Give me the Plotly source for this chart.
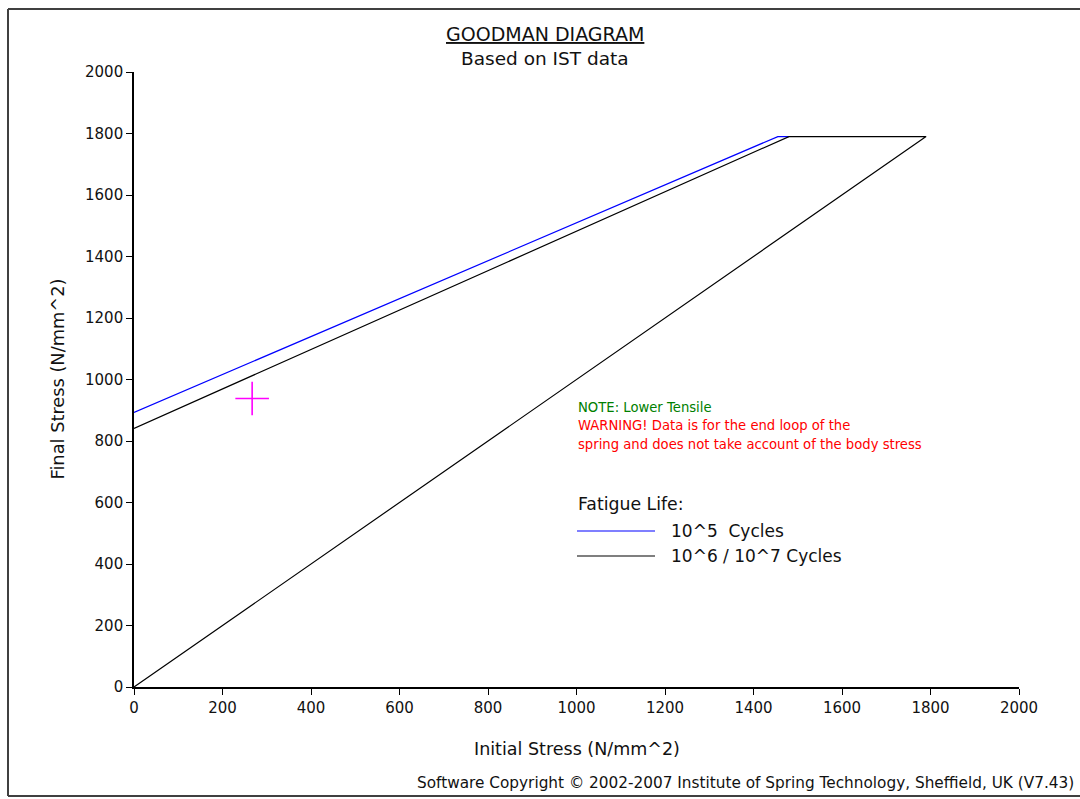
import plotly.graph_objects as go

# ---- data ----
blue_x = [0, 1455, 1480]
blue_y = [893, 1790, 1790]
black_x = [0, 1480, 1790, 0]
black_y = [841, 1790, 1790, 0]
point_x = [267]
point_y = [938]
ticks = [0, 200, 400, 600, 800, 1000, 1200, 1400, 1600, 1800, 2000]

FONT = "DejaVu Sans"
W, H = 1080, 799
L, R, T, B = 134, 61, 72, 112
PW, PH = W - L - R, H - T - B


def px(x):
    return (x - L) / PW


def py(y):
    return (H - B - y) / PH


fig = go.Figure()
fig.add_trace(go.Scatter(x=blue_x, y=blue_y, mode="lines",
                         line=dict(color="#0000FF", width=1.2), showlegend=False))
fig.add_trace(go.Scatter(x=black_x, y=black_y, mode="lines",
                         line=dict(color="#000000", width=1.2), showlegend=False))
fig.add_trace(go.Scatter(x=point_x, y=point_y, mode="markers",
                         marker=dict(symbol="cross-thin", size=24,
                                     line=dict(color="#FF00FF", width=1.6)),
                         showlegend=False))

axis_common = dict(range=[0, 2000], tickvals=ticks, ticktext=[str(t) for t in ticks],
                   showgrid=False, zeroline=False, showline=True, linecolor="black",
                   linewidth=1.6, ticks="outside", ticklen=6, tickwidth=1.4,
                   tickcolor="black", tickfont=dict(family=FONT, size=15, color="#111"),
                   fixedrange=True)
fig.update_xaxes(**axis_common)
fig.update_yaxes(**axis_common)

ann = []
ann.append(dict(text="<u>GOODMAN DIAGRAM</u>", x=px(545), y=py(34), font=dict(size=19)))
ann.append(dict(text="Based on IST data", x=px(545), y=py(59), font=dict(size=18.5)))
ann.append(dict(text="Initial Stress (N/mm^2)", x=px(577), y=py(749), font=dict(size=17.5)))
ann.append(dict(text="Final Stress (N/mm^2)", x=px(57), y=py(379.5), textangle=-90,
                font=dict(size=17.8)))
ann.append(dict(text="Software Copyright © 2002-2007 Institute of Spring Technology, Sheffield, UK (V7.43)",
                x=px(1076), y=py(783), xanchor="right", font=dict(size=15.3)))
ann.append(dict(text="NOTE: Lower Tensile", x=px(576), y=py(407), xanchor="left",
                font=dict(size=13.2, color="#008000")))
ann.append(dict(text="WARNING! Data is for the end loop of the", x=px(576), y=py(425),
                xanchor="left", font=dict(size=13.2, color="#FF0000")))
ann.append(dict(text="spring and does not take account of the body stress", x=px(576), y=py(445),
                xanchor="left", font=dict(size=13.2, color="#FF0000")))
ann.append(dict(text="Fatigue Life:", x=px(576), y=py(504), xanchor="left", font=dict(size=17.3)))
ann.append(dict(text="10^5  Cycles", x=px(669), y=py(531), xanchor="left", font=dict(size=17)))
ann.append(dict(text="10^6 / 10^7 Cycles", x=px(669), y=py(556), xanchor="left", font=dict(size=17)))

annotations = []
for a in ann:
    d = dict(xref="paper", yref="paper", showarrow=False, yanchor="middle")
    d.setdefault("xanchor", "center")
    d.update(a)
    f = dict(family=FONT, color="#111")
    f.update(a.get("font", {}))
    d["font"] = f
    annotations.append(d)

shapes = [
    # outer frame (left, top, bottom edges)
    dict(type="line", xref="paper", yref="paper", x0=px(8), y0=py(9), x1=px(1085), y1=py(9),
         line=dict(color="#404040", width=2)),
    dict(type="line", xref="paper", yref="paper", x0=px(8), y0=py(9), x1=px(8), y1=py(796),
         line=dict(color="#404040", width=2)),
    dict(type="line", xref="paper", yref="paper", x0=px(8), y0=py(796), x1=px(1085), y1=py(796),
         line=dict(color="#404040", width=2)),
    # legend samples
    dict(type="line", xref="paper", yref="paper", x0=px(577), y0=py(531), x1=px(655), y1=py(531),
         line=dict(color="#0000FF", width=1.2)),
    dict(type="line", xref="paper", yref="paper", x0=px(577), y0=py(556), x1=px(655), y1=py(556),
         line=dict(color="#000000", width=1.2)),
]

fig.update_layout(
    width=W, height=H,
    margin=dict(l=L, r=R, t=T, b=B, autoexpand=False),
    paper_bgcolor="white", plot_bgcolor="white",
    annotations=annotations, shapes=shapes,
    showlegend=False,
    font=dict(family=FONT),
)

fig.write_html("out.html", config={"displayModeBar": False})
